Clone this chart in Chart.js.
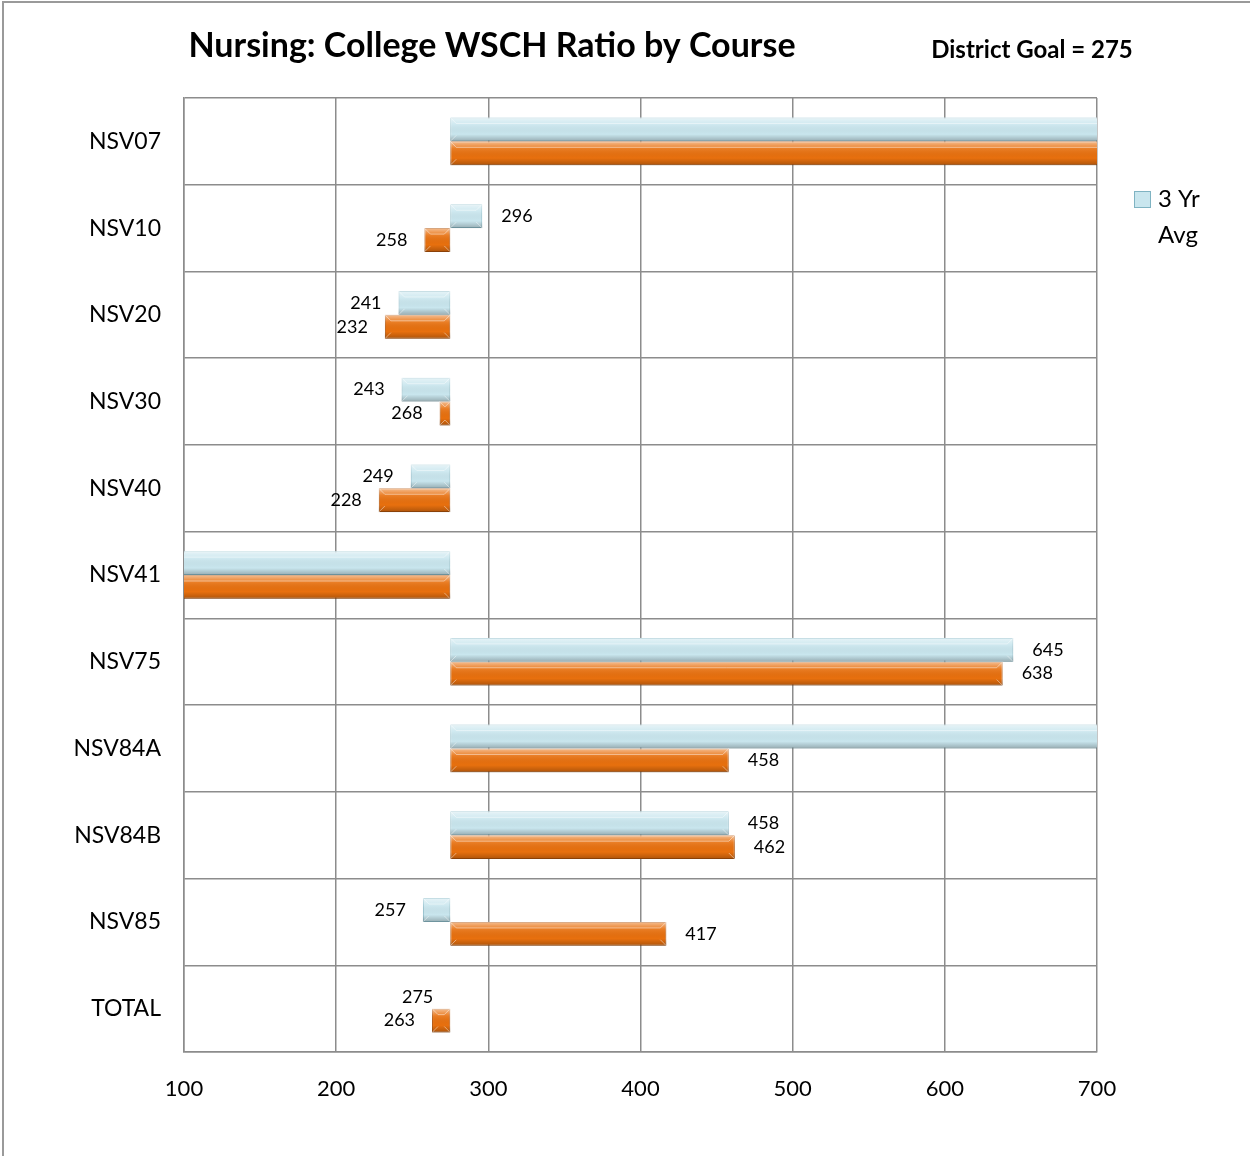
<!DOCTYPE html>
<html>
<head>
<meta charset="utf-8">
<script src="https://cdn.jsdelivr.net/npm/chart.js@4.4.1/dist/chart.umd.min.js"></script>
<style>
  html, body { margin: 0; padding: 0; background: #fff; }
  canvas { display: block; }
</style>
</head>
<body>
<canvas id="wschChart" width="1250" height="1156"></canvas>
<script>
// courses and ratios, bars float from the district goal
const GOAL = 275;
const courses = ['NSV07', 'NSV10', 'NSV20', 'NSV30', 'NSV40', 'NSV41', 'NSV75', 'NSV84A', 'NSV84B', 'NSV85', 'TOTAL'];
const avg3yr = [1100, 296, 241, 243, 249, 60, 645, 900, 458, 257, 275];
const college = [1150, 258, 232, 268, 228, 50, 638, 458, 462, 417, 263];
const xTicks = [100, 200, 300, 400, 500, 600, 700];

const FONT = 'Lato, "Liberation Sans", sans-serif';
const ctx = document.getElementById('wschChart').getContext('2d');

const toRange = vals => vals.map(v => [GOAL, v]);

const barEnds = bar => {
    const p = bar.getProps(['x', 'y', 'base', 'height'], true);
    return { left: Math.min(p.x, p.base), right: Math.max(p.x, p.base), y: p.y, h: p.height };
};

// glossy bevel look on top of each bar
const bevelPlugin = {
    id: 'bevel',
    afterDatasetsDraw(chart) {
        const c = chart.ctx;
        const area = chart.chartArea;
        c.save();
        c.beginPath();
        c.rect(area.left, area.top, area.right - area.left, area.bottom - area.top);
        c.clip();
        chart.data.datasets.forEach((ds, i) => {
            chart.getDatasetMeta(i).data.forEach(bar => {
                const e = barEnds(bar);
                const x0 = e.left, x1 = e.right;
                const top = e.y - e.h / 2, h = e.h;
                if (x1 - x0 < 1) return;
                const g = c.createLinearGradient(0, top, 0, top + h);
                g.addColorStop(0, 'rgba(255,255,255,0.55)');
                g.addColorStop(0.3, 'rgba(255,255,255,0.1)');
                g.addColorStop(0.7, 'rgba(0,0,0,0)');
                g.addColorStop(1, 'rgba(0,0,0,0.25)');
                c.fillStyle = g;
                c.fillRect(x0, top, x1 - x0, h);
                // bevel corners
                const b = Math.min(6, (x1 - x0) / 2);
                c.strokeStyle = 'rgba(255,255,255,0.45)';
                c.lineWidth = 1;
                c.beginPath();
                c.moveTo(x0, top); c.lineTo(x0 + b, top + b); c.lineTo(x1 - b, top + b); c.lineTo(x1, top);
                c.moveTo(x0, top + h); c.lineTo(x0 + b, top + h - b);
                c.moveTo(x1, top + h); c.lineTo(x1 - b, top + h - b);
                c.stroke();
            });
        });
        c.restore();
    }
};

// value labels at the bar ends
const labelPlugin = {
    id: 'endLabels',
    afterDatasetsDraw(chart) {
        const c = chart.ctx;
        const xs = chart.scales.x;
        c.save();
        c.font = '18px ' + FONT;
        c.fillStyle = '#000';
        c.textBaseline = 'middle';
        chart.data.datasets.forEach((ds, i) => {
            chart.getDatasetMeta(i).data.forEach((bar, j) => {
                const v = ds.data[j][1];
                if (v < xs.min || v > xs.max) return;
                const e = barEnds(bar);
                if (v > GOAL) {
                    c.textAlign = 'left';
                    c.fillText(v, e.right + 19, e.y);
                } else {
                    c.textAlign = 'right';
                    c.fillText(v, e.left - 17, e.y);
                }
            });
        });
        c.restore();
    }
};

// frame, titles and the one-entry legend
const headerPlugin = {
    id: 'header',
    afterDraw(chart) {
        const c = chart.ctx;
        c.save();
        c.strokeStyle = '#9a9a9a';
        c.lineWidth = 2;
        c.beginPath();
        c.moveTo(3, 1156); c.lineTo(3, 2); c.lineTo(1250, 2);
        c.stroke();
        c.fillStyle = '#000';
        c.textBaseline = 'middle';
        c.textAlign = 'center';
        c.font = 'bold 34px ' + FONT;
        c.fillText('Nursing: College WSCH Ratio by Course', 492, 46);
        c.font = 'bold 24px ' + FONT;
        c.fillText('District Goal = 275', 1032, 50);
        // legend
        c.fillStyle = '#c9e6ee';
        c.fillRect(1134, 191, 17, 17);
        c.strokeStyle = '#7fb3c2';
        c.lineWidth = 1;
        c.strokeRect(1134.5, 191.5, 16, 16);
        c.fillStyle = '#000';
        c.textAlign = 'left';
        c.font = '24px ' + FONT;
        c.fillText('3 Yr', 1158, 199);
        c.fillText('Avg', 1158, 235);
        c.restore();
    }
};

new Chart(ctx, {
    type: 'bar',
    data: {
        labels: courses,
        datasets: [{
            label: '3 Yr Avg',
            data: toRange(avg3yr),
            backgroundColor: '#c9e6ee',
            borderColor: '#8dbdca',
            borderWidth: 1,
            borderSkipped: false
        }, {
            label: 'College',
            data: toRange(college),
            backgroundColor: '#e8700e',
            borderColor: '#b3540a',
            borderWidth: 1,
            borderSkipped: false
        }]
    },
    options: {
        indexAxis: 'y',
        responsive: false,
        animation: false,
        layout: { padding: { top: 98, right: 153, left: 0, bottom: 0 } },
        datasets: { bar: { barPercentage: 1, categoryPercentage: 0.55 } },
        scales: {
            x: {
                min: 100,
                max: 700,
                afterBuildTicks: axis => { axis.ticks = xTicks.map(v => ({ value: v })); },
                afterFit: axis => { axis.height = 104; },
                grid: { color: '#8c8c8c', lineWidth: 1.5, drawTicks: false },
                border: { color: '#8c8c8c', width: 1.5 },
                ticks: { color: '#000', font: { family: FONT, size: 22 }, padding: 24 }
            },
            y: {
                afterFit: axis => { axis.width = 184; },
                grid: { color: '#8c8c8c', lineWidth: 1.5, drawTicks: false, offset: true },
                border: { color: '#8c8c8c', width: 1.5 },
                ticks: { color: '#000', font: { family: FONT, size: 23 }, padding: 23 }
            }
        },
        plugins: {
            legend: { display: false },
            title: { display: false },
            tooltip: { enabled: false }
        }
    },
    plugins: [bevelPlugin, labelPlugin, headerPlugin]
});
</script>
</body>
</html>
